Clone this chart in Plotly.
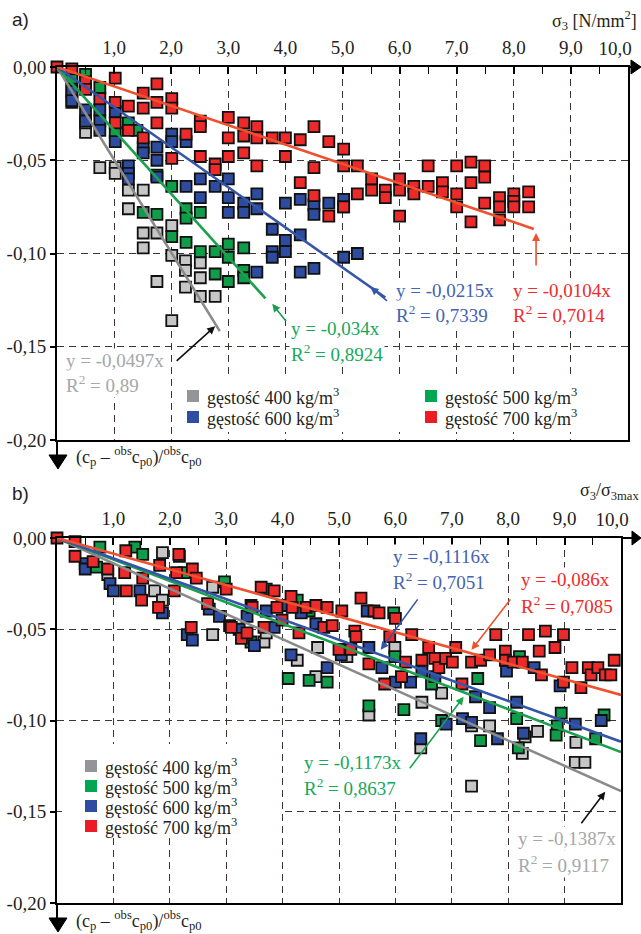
import plotly.graph_objects as go

W, H = 641, 934
def px(x):
    return x / W
def py(y):
    return 1 - y / H

SERIF = "Liberation Serif"
SANS = "Liberation Sans"
INK = "#231F20"

# ---------------- data ----------------
densities = ["400", "500", "600", "700"]
series_names = ["gęstość %s kg/m<sup>3</sup>" % d for d in densities]

x_ticktext = ["1,0", "2,0", "3,0", "4,0", "5,0", "6,0", "7,0", "8,0", "9,0", "10,0"]
y_tickvals = [0.0, -0.05, -0.10, -0.15, -0.20]
y_ticktext = ["0,00", "-0,05", "-0,10", "-0,15", "-0,20"]

# panel a) x = sigma3 [N/mm2]
a400_x = [0.26, 0.26, 0.5, 0.75, 1.02, 1.02, 1.25, 1.51, 1.25, 1.51, 1.75, 2.01, 1.51, 2.01,
          2.25, 2.25, 2.51, 2.51, 1.75, 2.25, 2.51, 2.77, 2.01, 0.5]
a400_y = [-0.012, -0.019, -0.035, -0.054, -0.054, -0.057, -0.066, -0.066, -0.076, -0.089, -0.089,
          -0.085, -0.097, -0.101, -0.104, -0.109, -0.105, -0.113, -0.115, -0.118, -0.123, -0.123,
          -0.136, -0.030]
a500_x = [0.5, 0.75, 0.26, 1.25, 1.4, 1.02, 1.75, 2.01, 1.51, 1.75, 2.26, 2.26, 2.51, 2.01, 2.26,
          2.51, 2.77, 3.0, 3.27, 3.0, 2.77, 3.0, 3.27, 3.27]
a500_y = [-0.004, -0.011, -0.006, -0.030, -0.034, -0.035, -0.058, -0.064, -0.078, -0.079, -0.076,
          -0.081, -0.078, -0.091, -0.094, -0.099, -0.099, -0.095, -0.097, -0.102, -0.111, -0.115,
          -0.109, -0.113]
a600_x = [0.26, 0.26, 0.5, 0.5, 0.75, 0.75, 0.75, 1.02, 1.02, 1.25, 1.25, 1.51, 1.51, 1.75, 1.75,
          1.75, 2.01, 2.01, 2.26, 2.26, 2.51, 2.51, 2.77, 3.0, 3.0, 3.0, 3.27, 3.27, 3.5, 3.5, 3.77,
          3.77, 3.77, 4.0, 4.0, 4.0, 4.26, 4.26, 4.26, 4.5, 4.5, 4.5, 4.76, 5.02, 5.02, 5.02, 5.26,
          3.5, 1.25]
a600_y = [-0.013, -0.018, -0.023, -0.029, -0.023, -0.029, -0.034, -0.024, -0.040, -0.053, -0.057,
          -0.043, -0.046, -0.043, -0.050, -0.059, -0.036, -0.040, -0.040, -0.064, -0.060, -0.070,
          -0.064, -0.060, -0.070, -0.078, -0.073, -0.078, -0.068, -0.076, -0.087, -0.099, -0.102,
          -0.073, -0.093, -0.099, -0.071, -0.090, -0.110, -0.074, -0.079, -0.108, -0.073, -0.071,
          -0.075, -0.102, -0.100, -0.110, -0.060]
a700_x = [0.0, 0.26, 0.5, 0.5, 1.02, 0.75, 1.02, 1.02, 1.51, 1.51, 1.75, 1.75, 1.75, 2.01, 2.01,
          1.25, 1.25, 1.51, 2.01, 2.26, 2.51, 2.51, 2.51, 2.77, 2.77, 3.0, 3.0, 3.0, 3.27, 3.27,
          3.27, 3.5, 3.5, 3.77, 4.0, 4.0, 4.26, 4.26, 4.5, 4.5, 4.5, 4.76, 4.76, 3.5, 5.02, 5.02,
          5.26, 5.02, 5.26, 5.51, 5.51, 5.75, 5.75, 6.0, 6.0, 6.0, 6.25, 6.25, 6.5, 6.5, 6.75, 6.75,
          7.0, 7.0, 7.0, 7.25, 7.25, 7.25, 7.49, 7.49, 7.49, 7.75, 7.75, 7.75, 8.0, 8.0, 8.0, 8.26,
          8.26]
a700_y = [0.0, -0.001, -0.008, -0.012, -0.006, -0.017, -0.019, -0.030, -0.014, -0.022, -0.009,
          -0.019, -0.030, -0.017, -0.022, -0.021, -0.034, -0.038, -0.049, -0.036, -0.029, -0.032,
          -0.048, -0.052, -0.055, -0.027, -0.038, -0.048, -0.030, -0.037, -0.046, -0.032, -0.038,
          -0.038, -0.038, -0.048, -0.039, -0.062, -0.032, -0.054, -0.069, -0.040, -0.080, -0.053,
          -0.044, -0.053, -0.053, -0.075, -0.068, -0.060, -0.066, -0.066, -0.070, -0.060, -0.066,
          -0.080, -0.064, -0.068, -0.053, -0.064, -0.062, -0.067, -0.053, -0.068, -0.075, -0.051,
          -0.062, -0.083, -0.053, -0.059, -0.073, -0.070, -0.075, -0.082, -0.068, -0.072, -0.075,
          -0.067, -0.075]

# panel b) x = sigma3 / sigma3max
b400_x = [0.173, 0.187, 0.187, 0.276, 0.276, 0.367, 0.371, 0.344, 0.462, 0.426, 0.459, 0.514,
          0.599, 0.682, 0.553, 0.647, 0.645, 0.735, 0.767, 0.735, 0.830, 0.852, 0.825, 0.920,
          0.919, 0.936, 0.090]
b400_y = [-0.029, -0.008, -0.034, -0.053, -0.027, -0.057, -0.052, -0.037, -0.060, -0.067, -0.076,
          -0.065, -0.060, -0.085, -0.097, -0.090, -0.115, -0.103, -0.103, -0.136, -0.109, -0.106,
          -0.118, -0.112, -0.123, -0.123, -0.020]
b500_x = [0.076, 0.070, 0.138, 0.152, 0.217, 0.226, 0.297, 0.344, 0.371, 0.426, 0.447, 0.410,
          0.447, 0.479, 0.597, 0.599, 0.746, 0.820, 0.664, 0.553, 0.615, 0.682, 0.751, 0.815,
          0.818, 0.894, 0.887, 0.885, 0.955, 0.970]
b500_y = [-0.005, -0.016, -0.005, -0.009, -0.010, -0.019, -0.024, -0.057, -0.028, -0.034, -0.040,
          -0.077, -0.078, -0.079, -0.041, -0.065, -0.077, -0.065, -0.080, -0.092, -0.094, -0.100,
          -0.111, -0.099, -0.115, -0.096, -0.103, -0.108, -0.110, -0.097]
b600_x = [0.050, 0.050, 0.094, 0.100, 0.147, 0.187, 0.231, 0.240, 0.270, 0.288, 0.306, 0.323,
          0.350, 0.385, 0.371, 0.337, 0.399, 0.433, 0.459, 0.415, 0.479, 0.550, 0.504, 0.553,
          0.576, 0.600, 0.627, 0.647, 0.670, 0.742, 0.797, 0.846, 0.892, 0.815, 0.690, 0.645,
          0.719, 0.735, 0.767, 0.781, 0.827, 0.919, 0.965]
b600_y = [-0.014, -0.017, -0.025, -0.029, -0.029, -0.041, -0.053, -0.056, -0.039, -0.043, -0.048,
          -0.050, -0.059, -0.049, -0.040, -0.043, -0.037, -0.041, -0.047, -0.064, -0.071, -0.040,
          -0.064, -0.060, -0.071, -0.079, -0.079, -0.073, -0.076, -0.087, -0.073, -0.071, -0.081,
          -0.090, -0.102, -0.110, -0.099, -0.101, -0.093, -0.110, -0.107, -0.102, -0.100]
b700_x = [0.0, 0.032, 0.032, 0.064, 0.090, 0.123, 0.120, 0.122, 0.152, 0.150, 0.180, 0.182, 0.216,
          0.208, 0.212, 0.240, 0.247, 0.238, 0.300, 0.267, 0.309, 0.327, 0.337, 0.367, 0.346,
          0.362, 0.385, 0.390, 0.399, 0.415, 0.417, 0.429, 0.442, 0.459, 0.473, 0.479, 0.488,
          0.505, 0.539, 0.562, 0.571, 0.600, 0.528, 0.530, 0.500, 0.521, 0.553, 0.590, 0.581,
          0.611, 0.629, 0.618, 0.647, 0.659, 0.670, 0.677, 0.689, 0.701, 0.707, 0.718, 0.735,
          0.751, 0.767, 0.778, 0.795, 0.795, 0.809, 0.825, 0.836, 0.866, 0.898, 0.883, 0.855,
          0.859, 0.898, 0.929, 0.913, 0.942, 0.947, 0.959, 0.972, 0.982, 0.988]
b700_y = [0.0, -0.002, -0.010, -0.013, -0.017, -0.029, -0.019, -0.007, -0.022, -0.034, -0.038,
          -0.015, -0.009, -0.029, -0.019, -0.017, -0.022, -0.049, -0.028, -0.036, -0.049, -0.055,
          -0.052, -0.049, -0.038, -0.027, -0.029, -0.038, -0.045, -0.032, -0.038, -0.052, -0.038,
          -0.037, -0.049, -0.038, -0.048, -0.040, -0.033, -0.040, -0.041, -0.044, -0.051, -0.054,
          -0.061, -0.061, -0.069, -0.054, -0.080, -0.076, -0.053, -0.068, -0.067, -0.060, -0.066,
          -0.071, -0.066, -0.068, -0.060, -0.080, -0.068, -0.067, -0.064, -0.053, -0.062, -0.067,
          -0.068, -0.068, -0.053, -0.051, -0.053, -0.060, -0.062, -0.075, -0.079, -0.082, -0.071,
          -0.071, -0.075, -0.071, -0.075, -0.075, -0.067]

# linear fits y = a*x
a_slopes = [-0.0497, -0.034, -0.0215, -0.0104]
a_r2 = ["0,89", "0,8924", "0,7339", "0,7014"]
a_fit_xmax = [2.85, 3.65, 5.75, 8.35]
b_slopes = [-0.1387, -0.1173, -0.1116, -0.086]
b_r2 = ["0,9117", "0,8637", "0,7051", "0,7085"]
b_fit_xmax = [1.0, 1.0, 1.0, 1.0]

# ---------------- styles ----------------
marker_colors = ["#C6C6C6", "#0F9D4A", "#2D4C9F", "#EC2A2A"]
legend_colors = ["#939598", "#00A651", "#2E4DA0", "#ED1C24"]
line_colors = ["#8A8A8A", "#1BA04E", "#3556A8", "#F0502D"]
text_colors = ["#A5A7AA", "#17A85A", "#4463B0", "#EE2B2B"]

a_data = [(a400_x, a400_y), (a500_x, a500_y), (a600_x, a600_y), (a700_x, a700_y)]
b_data = [(b400_x, b400_y), (b500_x, b500_y), (b600_x, b600_y), (b700_x, b700_y)]

fig = go.Figure()

for data, xa, ya in [(a_data, "x", "y"), (b_data, "x2", "y2")]:
    for i in range(4):
        xs, ys = data[i]
        fig.add_trace(go.Scatter(
            x=xs, y=ys, mode="markers", xaxis=xa, yaxis=ya, showlegend=False,
            name=series_names[i], cliponaxis=False,
            marker=dict(symbol="square", size=11, color=marker_colors[i],
                        line=dict(color="#111111", width=1.8))))

for i in range(4):
    fig.add_trace(go.Scatter(
        x=[0, a_fit_xmax[i]], y=[0, a_slopes[i] * a_fit_xmax[i]], mode="lines",
        xaxis="x", yaxis="y", showlegend=False, cliponaxis=False,
        line=dict(color=line_colors[i], width=2.6)))
    fig.add_trace(go.Scatter(
        x=[0, b_fit_xmax[i]], y=[0, b_slopes[i] * b_fit_xmax[i]], mode="lines",
        xaxis="x2", yaxis="y2", showlegend=False, cliponaxis=False,
        line=dict(color=line_colors[i], width=2.6)))

# invisible traces so that the overlay axes carrying the last tick label are drawn
fig.add_trace(go.Scatter(x=[None], y=[None], xaxis="x3", yaxis="y", showlegend=False))
fig.add_trace(go.Scatter(x=[None], y=[None], xaxis="x4", yaxis="y2", showlegend=False))

grid = dict(showgrid=True, gridcolor="#3B3430", gridwidth=1.3, griddash="7px,5px")
tickfont = dict(family=SERIF, size=19, color=INK)

def xaxis_cfg(domain, anchor, rng, tickvals):
    return dict(domain=domain, anchor=anchor, side="top", range=rng, automargin=False,
                tickvals=tickvals[:-1], ticktext=x_ticktext[:-1], ticks="inside", ticklen=7,
                tickwidth=1.5, tickcolor="black", ticklabelstandoff=3,
                minor=dict(dtick=(rng[1] - rng[0]) / 20, tick0=0, ticks="inside", ticklen=7,
                           tickcolor="black", tickwidth=1.3, showgrid=False),
                showline=True, mirror=True, linecolor="black", linewidth=2,
                zeroline=False, tickfont=tickfont, **grid)

def last_tick_axis(over, domain, anchor, rng, tickval, shift):
    return dict(overlaying=over, domain=domain, anchor=anchor, side="top", range=rng,
                automargin=False, tickvals=[tickval], ticktext=[x_ticktext[-1]],
                ticks="", ticklabelstandoff=7, ticklabelshift=shift,
                ticklabeloverflow="allow", showgrid=False, showline=False,
                zeroline=False, tickfont=tickfont)

def yaxis_cfg(domain, anchor):
    return dict(domain=domain, anchor=anchor, range=[-0.2, 0], tickvals=y_tickvals,
                automargin=False, ticktext=y_ticktext, ticks="outside", ticklen=5,
                tickwidth=1.5, tickcolor="black", showline=True, mirror=True,
                linecolor="black", linewidth=2, zeroline=False, tickfont=tickfont, **grid)

a_xticks = [1, 2, 3, 4, 5, 6, 7, 8, 9, 10]
b_xticks = [0.1, 0.2, 0.3, 0.4, 0.5, 0.6, 0.7, 0.8, 0.9, 1.0]
a_dom = [px(57), px(628)]
b_dom = [px(57), px(621)]

fig.update_layout(
    width=W, height=H, margin=dict(l=0, r=0, t=0, b=0, autoexpand=False),
    paper_bgcolor="white", plot_bgcolor="white", showlegend=False,
    xaxis=xaxis_cfg(a_dom, "y", [0, 10], a_xticks),
    yaxis=yaxis_cfg([py(440), py(67)], "x"),
    xaxis2=xaxis_cfg(b_dom, "y2", [0, 1.0], b_xticks),
    yaxis2=yaxis_cfg([py(903), py(538)], "x2"),
    xaxis3=last_tick_axis("x", a_dom, "y", [0, 10], a_xticks[-1], -13),
    xaxis4=last_tick_axis("x2", b_dom, "y2", [0, 1.0], b_xticks[-1], -9),
)

ann = []
def text_ann(x, y, text, color, size=19, family=SERIF, xanchor="left", bg="white"):
    ann.append(dict(xref="paper", yref="paper", x=px(x), y=py(y), text=text,
                    showarrow=False, xanchor=xanchor, yanchor="middle",
                    font=dict(family=family, size=size, color=color),
                    bgcolor=bg, borderpad=1))

def eq(slope):
    return "y = %sx" % str(slope).replace(".", ",")

# panel a) equations
a_text_pos = [(64, 360, 384), (289, 328, 353), (394, 290, 314), (511, 290, 314)]
for i in range(4):
    x0, y1, y2 = a_text_pos[i]
    text_ann(x0, y1, eq(a_slopes[i]), text_colors[i])
    text_ann(x0, y2, "R<sup>2</sup> = " + a_r2[i], text_colors[i])
# panel b) equations
b_text_pos = [(516, 838, 864), (302, 762, 787), (391, 556, 581), (519, 579, 605)]
for i in range(4):
    x0, y1, y2 = b_text_pos[i]
    text_ann(x0, y1, eq(b_slopes[i]), text_colors[i])
    text_ann(x0, y2, "R<sup>2</sup> = " + b_r2[i], text_colors[i])

# arrows from labels to fit lines
arrow_colors = ["#111111", line_colors[1], line_colors[2], line_colors[3]]
a_arrows = [(2.77, -0.139, -40, 36), (3.77, -0.127, 15, 19), (5.49, -0.118, 18, 15),
            (8.39, -0.089, 0, 34)]
b_arrows = [(0.972, -0.139, -25, 33), (0.721, -0.087, -55, 73), (0.574, -0.0613, 38, -52),
            (0.735, -0.0613, 40, -52)]
for i in range(4):
    x, y, ax, ay = a_arrows[i]
    ann.append(dict(xref="x", yref="y", x=x, y=y, ax=ax, ay=ay, text="", showarrow=True,
                    arrowhead=2, arrowsize=1, arrowwidth=1.6, arrowcolor=arrow_colors[i]))
    x, y, ax, ay = b_arrows[i]
    ann.append(dict(xref="x2", yref="y2", x=x, y=y, ax=ax, ay=ay, text="", showarrow=True,
                    arrowhead=2, arrowsize=1, arrowwidth=1.6, arrowcolor=arrow_colors[i]))

# legends (square key + label)
shapes = []
def key(cx, cy, color, s=12):
    shapes.append(dict(type="rect", xref="paper", yref="paper", x0=px(cx - s / 2),
                       x1=px(cx + s / 2), y0=py(cy + s / 2), y1=py(cy - s / 2),
                       fillcolor=color, line=dict(width=0), layer="above"))

def prect(x0, y0, x1, y1):
    shapes.append(dict(type="rect", xref="paper", yref="paper", x0=px(x0), y0=py(y0),
                       x1=px(x1), y1=py(y1), fillcolor="white", line=dict(width=0),
                       layer="above"))

prect(176, 376, 624, 432)
prect(62, 744, 282, 838)

a_legend_pos = [(193, 396), (431, 396), (193, 417), (431, 417)]   # 400, 500, 600, 700
b_legend_pos = [(91, 766), (91, 786), (91, 806), (91, 826)]
for pos in (a_legend_pos, b_legend_pos):
    for i in range(4):
        cx, cy = pos[i]
        key(cx, cy, legend_colors[i])
        text_ann(cx + 12, cy, series_names[i], INK, size=18, bg="rgba(0,0,0,0)")

# panel labels & axis titles
text_ann(10, 19, "a)", INK, size=19, family=SANS, bg="rgba(0,0,0,0)")
text_ann(10, 493, "b)", INK, size=19, family=SANS, bg="rgba(0,0,0,0)")
text_ann(639, 21, "σ<sub>3</sub> [N/mm<sup>2</sup>]", INK, size=18, xanchor="right",
         bg="rgba(0,0,0,0)")
text_ann(641, 491, "σ<sub>3</sub>/σ<sub>3max</sub>", INK, size=18, xanchor="right",
         bg="rgba(0,0,0,0)")
ytitle = "(c<sub>p</sub> – <sup>obs</sup>c<sub>p0</sub>)/<sup>obs</sup>c<sub>p0</sub>"
text_ann(74, 456, ytitle, INK, size=18, bg="rgba(0,0,0,0)")
text_ann(74, 920, ytitle, INK, size=18, bg="rgba(0,0,0,0)")

fig.update_layout(annotations=ann)

# axis arrows
def pline(x0, y0, x1, y1, w=2):
    shapes.append(dict(type="line", xref="paper", yref="paper", x0=px(x0), y0=py(y0),
                       x1=px(x1), y1=py(y1), line=dict(color="black", width=w)))

def ptri(pts):
    path = "M " + " L ".join("%f,%f" % (px(a), py(b)) for a, b in pts) + " Z"
    shapes.append(dict(type="path", xref="paper", yref="paper", path=path,
                       fillcolor="black", line=dict(color="black", width=1)))

pline(57, 440, 57, 457); ptri([(49, 455), (67, 455), (58, 469)])
pline(628, 67, 634, 67); ptri([(631, 60), (641, 67), (631, 74)])
pline(57, 903, 57, 920); ptri([(49, 918), (67, 918), (58, 932)])
pline(621, 538, 634, 538); ptri([(632, 531), (641, 538), (632, 545)])
fig.update_layout(shapes=shapes)

fig.write_html("out.html")
